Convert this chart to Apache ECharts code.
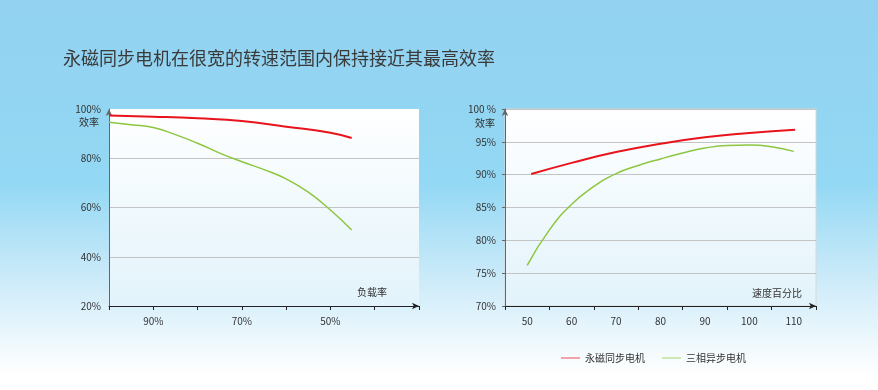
<!DOCTYPE html>
<html>
<head>
<meta charset="utf-8">
<script src="https://cdn.jsdelivr.net/npm/echarts@6/dist/echarts.min.js"></script>
<style>
html,body{margin:0;padding:0;}
#c{width:878px;height:390px;}
</style>
</head>
<body>
<div id="c"></div>
<script>
const titleText = '永磁同步电机在很宽的转速范围内保持接近其最高效率';
const seriesNames = ['永磁同步电机', '三相异步电机'];

// Left chart: efficiency (%) vs load rate (%)
const loadTicks = [90, 70, 50];
const leftPM = [[100, 97.4], [90, 96.9], [80, 96.2], [70, 95.1], [60, 92.8], [50, 90.4], [45.2, 88.2]];
const leftIM = [[100, 94.6], [95, 93.6], [90, 92.5], [85, 89.6], [80, 86.1], [75, 82.1], [70, 78.6], [65, 75.4], [60, 71.6], [55, 66.2], [50, 59.0], [45.2, 50.9]];

// Right chart: efficiency (%) vs speed percentage
const speedCats = ['50', '60', '70', '80', '90', '100', '110'];
const rightPM = [[50.9, 90.1], [60, 91.8], [70, 93.45], [80, 94.7], [90, 95.7], [100, 96.35], [110.3, 96.85]];
const rightIM = [[50, 76.2], [55, 81.6], [60, 85.5], [65, 88.2], [70, 90.15], [75, 91.4], [80, 92.4], [85, 93.3], [90, 94.05], [95, 94.45], [100, 94.5], [105, 94.25], [110, 93.55]];

const FONT = '"Noto Sans CJK SC", "Noto Sans", sans-serif';
const RED = '#e8141c';
const GREEN = '#8cc63f';

const chart = echarts.init(document.getElementById('c'));

const panelBg = new echarts.graphic.LinearGradient(0, 0, 0, 1, [
  {offset: 0, color: '#ffffff'},
  {offset: 1, color: '#e2f3fb'}
]);

const lbl = {color: '#333', fontSize: 10, fontFamily: FONT};

function lineSeries(name, xi, yi, data, color, width) {
  return {
    name: name, type: 'line', xAxisIndex: xi, yAxisIndex: yi, data: data,
    smooth: 0.5, showSymbol: false, symbol: 'none',
    color: color, lineStyle: {color: color, width: width}
  };
}

chart.setOption({
  backgroundColor: new echarts.graphic.LinearGradient(0, 0, 0, 1, [
    {offset: 0, color: '#92d2f0'},
    {offset: 0.47, color: '#93d8f4'},
    {offset: 0.72, color: '#cdebf9'},
    {offset: 0.96, color: '#ffffff'},
    {offset: 1, color: '#ffffff'}
  ]),
  animation: false,
  textStyle: {fontFamily: FONT},
  title: {
    text: titleText,
    left: 58, top: 44,
    textStyle: {fontSize: 18, fontWeight: 'normal', color: '#3a3a3a', fontFamily: FONT}
  },
  legend: {
    data: seriesNames,
    left: 556, top: 348,
    itemWidth: 19, itemHeight: 10, itemGap: 17,
    icon: 'path://M0,4.5L19,4.5L19,5.5L0,5.5Z',
    itemStyle: {opacity: 0.75},
    textStyle: {color: '#333', fontSize: 10, fontFamily: FONT}
  },
  grid: [
    {left: 109, top: 109, width: 310, height: 197, show: true, backgroundColor: panelBg, borderWidth: 0},
    {left: 505, top: 109, width: 311, height: 197, show: true, backgroundColor: panelBg, borderColor: '#d8d8d8', borderWidth: 1}
  ],
  xAxis: [
    {
      gridIndex: 0, type: 'value', inverse: true, min: 30, max: 100, interval: 10,
      axisLine: {lineStyle: {color: '#222', width: 1}, symbol: ['none', 'arrow'], symbolSize: [5, 7]},
      axisTick: {show: true, length: 4, lineStyle: {color: '#222'}},
      axisLabel: Object.assign({margin: 10, formatter: v => loadTicks.includes(v) ? v + '%' : ''}, lbl),
      splitLine: {show: false}
    },
    {
      gridIndex: 1, type: 'category', data: speedCats, boundaryGap: true,
      axisLine: {lineStyle: {color: '#222', width: 1}, symbol: ['none', 'arrow'], symbolSize: [5, 7]},
      axisTick: {show: true, length: 4, alignWithLabel: false, lineStyle: {color: '#222'}},
      axisLabel: Object.assign({margin: 10}, lbl),
      splitLine: {show: false}
    },
    {
      gridIndex: 1, type: 'value', min: 45, max: 115, show: false
    }
  ],
  yAxis: [
    {
      gridIndex: 0, type: 'value', min: 20, max: 100, interval: 20,
      axisLine: {show: true, lineStyle: {color: '#666', width: 1}, symbol: ['none', 'arrow'], symbolSize: [5, 7]},
      axisTick: {show: false},
      axisLabel: Object.assign({margin: 8, formatter: '{value}%'}, lbl),
      splitLine: {show: true, showMaxLine: false, lineStyle: {color: '#c4c4c4', width: 1}}
    },
    {
      gridIndex: 1, type: 'value', min: 70, max: 100, interval: 5,
      axisLine: {show: true, lineStyle: {color: '#666', width: 1}, symbol: ['none', 'arrow'], symbolSize: [5, 7]},
      axisTick: {show: true, length: 3, lineStyle: {color: '#666'}},
      axisLabel: Object.assign({margin: 9, formatter: v => v === 100 ? '100 %' : v + '%'}, lbl),
      splitLine: {show: true, lineStyle: {color: '#c4c4c4', width: 1}}
    }
  ],
  graphic: [
    {type: 'text', x: 99, y: 122, style: {text: '效率', textAlign: 'right', textVerticalAlign: 'middle', fill: '#333', font: '10px ' + FONT}},
    {type: 'text', x: 495, y: 123, style: {text: '效率', textAlign: 'right', textVerticalAlign: 'middle', fill: '#333', font: '10px ' + FONT}},
    {type: 'text', x: 357, y: 292, style: {text: '负载率', textAlign: 'left', textVerticalAlign: 'middle', fill: '#333', font: '10px ' + FONT}},
    {type: 'text', x: 752, y: 293, style: {text: '速度百分比', textAlign: 'left', textVerticalAlign: 'middle', fill: '#333', font: '10px ' + FONT}}
  ],
  series: [
    lineSeries(seriesNames[0], 0, 0, leftPM, RED, 2),
    lineSeries(seriesNames[1], 0, 0, leftIM, GREEN, 1.5),
    lineSeries(seriesNames[0], 2, 1, rightPM, RED, 2),
    lineSeries(seriesNames[1], 2, 1, rightIM, GREEN, 1.5)
  ]
});
</script>
</body>
</html>
